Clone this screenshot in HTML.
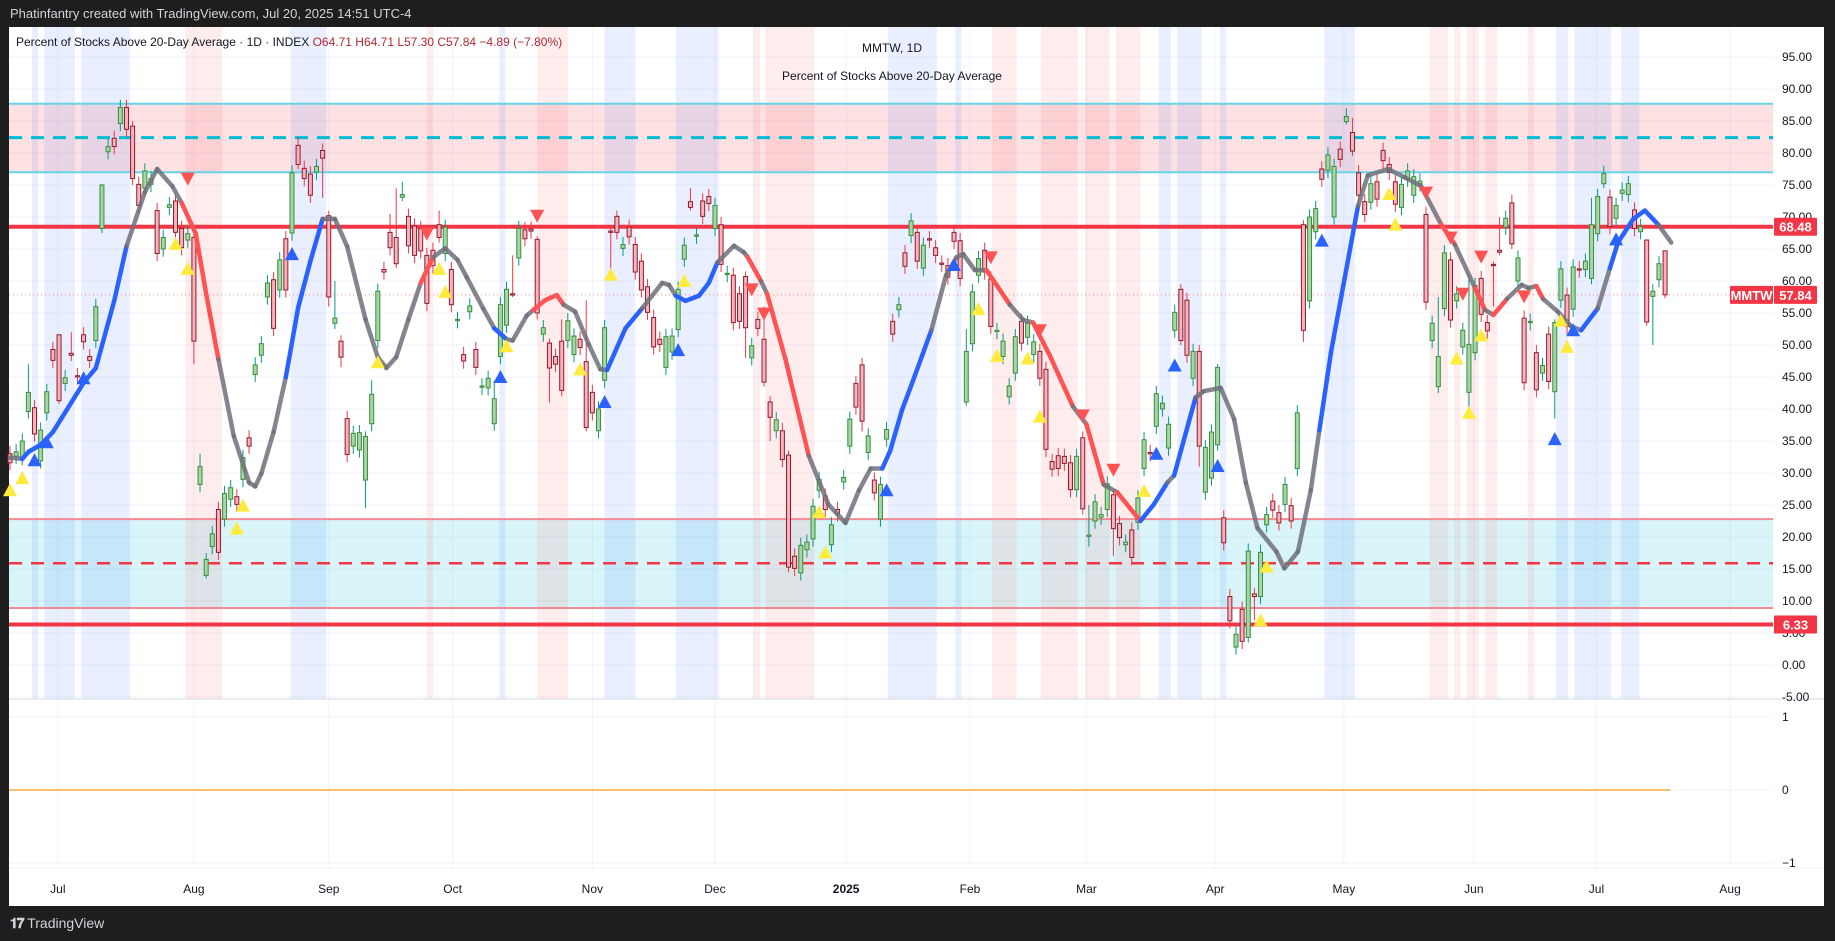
<!DOCTYPE html>
<html><head><meta charset="utf-8">
<style>
html,body{margin:0;padding:0;background:#1e1e1e;}
body{width:1835px;height:941px;overflow:hidden;position:relative;font-family:"Liberation Sans",sans-serif;}
#hdr{position:absolute;left:10px;top:6px;color:#d1d4dc;font-size:13px;}
#logo{position:absolute;left:10px;top:915px;color:#d1d4dc;font-size:14px;}
svg{position:absolute;left:0;top:0;}
</style></head>
<body>
<div id="hdr">Phatinfantry created with TradingView.com, Jul 20, 2025 14:51 UTC-4</div>
<div id="logo"><b style="letter-spacing:-1px">𝟏𝟕</b> TradingView</div>
<svg id="chart" width="1835" height="941"></svg>
<script>
// ---- data ----
const opens=[33.0,32.6,32.4,39.6,40.2,31.9,39.4,49.3,51.6,44.0,48.7,45.2,51.6,48.2,50.7,68.2,80.2,82.3,84.6,87.1,84.2,75.1,74.5,75.1,71.0,65.0,71.5,72.5,68.2,66.4,66.8,28.2,14.0,18.5,24.3,22.8,25.9,26.3,29.0,35.5,45.4,48.4,57.5,60.2,58.6,66.6,67.5,81.2,77.6,76.7,77.0,80.4,70.2,53.4,50.6,38.5,34.2,33.6,28.9,37.7,50.7,61.8,67.6,66.8,73.1,70.1,68.6,68.2,64.0,64.8,68.8,64.3,61.8,53.8,48.5,55.2,49.3,43.4,43.3,37.7,48.2,53.1,58.0,63.6,68.0,68.1,66.5,51.7,50.3,48.2,50.6,50.7,48.5,50.9,47.4,42.6,36.6,44.5,67.8,70.1,65.1,68.4,65.7,63.1,59.1,54.3,50.9,46.5,48.9,52.4,63.4,72.4,67.0,72.5,73.2,68.2,68.8,61.0,60.9,58.0,60.7,48.0,54.0,50.9,41.1,36.6,36.6,32.8,17.0,14.4,18.0,19.7,27.3,26.4,18.8,24.3,28.6,34.2,44.0,46.9,33.2,28.9,22.8,35.3,53.7,55.5,64.4,67.1,67.6,62.0,66.6,65.2,62.8,62.4,67.6,66.3,41.1,50.2,60.9,64.8,60.3,52.1,48.2,41.9,45.6,53.7,51.2,48.5,49.0,46.2,31.8,32.7,32.6,31.6,27.4,35.5,20.1,22.5,23.1,24.3,26.6,22.1,18.8,21.1,22.3,30.7,33.2,37.3,40.0,33.9,52.3,58.7,57.0,44.8,49.0,27.0,29.2,34.4,23.0,10.7,2.8,8.7,4.3,11.1,10.7,21.9,25.6,23.8,25.1,24.9,30.7,68.8,56.9,67.7,77.5,77.3,70.0,80.6,84.9,83.2,76.9,72.4,72.3,75.5,80.4,78.2,75.5,71.5,75.9,73.4,75.2,70.4,50.7,43.5,55.7,63.3,56.9,49.7,42.6,48.8,60.4,53.5,62.6,64.8,68.4,72.2,60.0,54.2,53.5,48.8,45.6,51.7,42.7,57.0,57.8,55.6,61.9,61.8,60.4,67.4,75.2,73.1,69.8,73.7,73.5,71.1,67.7,66.4,57.6,60.2,64.71];
const closes=[31.6,33.3,35.0,42.6,36.1,36.7,42.7,47.6,41.3,44.9,48.4,45.0,50.5,47.6,56.0,75.0,81.0,81.0,87.1,83.7,76.0,71.8,77.2,76.0,64.3,66.8,71.9,67.6,65.2,67.4,50.6,31.0,16.5,20.5,17.6,26.8,27.7,25.1,32.4,34.2,46.9,50.2,59.7,52.6,63.3,58.6,76.9,78.2,76.0,73.4,77.9,79.2,57.5,54.2,48.1,32.9,36.2,36.3,35.7,42.3,58.4,61.4,65.2,62.7,73.5,65.5,64.0,64.7,56.5,62.4,66.8,68.4,56.3,54.0,47.5,56.1,46.5,43.6,44.8,41.6,56.3,58.7,57.8,68.2,66.6,67.8,55.0,52.7,46.4,47.0,42.9,53.8,51.4,49.6,37.1,39.4,40.0,52.7,67.6,67.6,65.7,66.9,61.4,58.6,55.1,49.7,50.1,51.3,51.4,58.7,65.6,71.5,67.2,70.1,72.1,71.8,62.6,61.2,53.5,53.7,52.7,49.9,52.6,44.2,38.7,38.3,32.1,15.3,15.1,18.7,19.2,24.8,29.0,24.3,21.9,23.6,29.3,38.4,40.3,38.1,35.8,26.9,28.2,36.8,51.7,56.3,62.3,69.4,63.1,65.6,66.4,64.0,62.6,60.6,66.2,60.4,49.0,58.3,63.5,61.4,52.9,52.3,50.6,43.6,51.3,50.3,53.4,50.5,44.8,33.7,30.6,30.7,31.5,27.4,32.6,24.4,20.3,25.5,23.5,28.3,21.3,19.9,19.2,16.8,26.1,35.2,33.0,42.4,40.9,37.6,55.1,50.7,48.4,49.0,34.2,34.0,36.4,46.5,19.1,6.9,4.8,3.7,17.8,10.7,17.6,23.5,24.2,22.2,28.2,22.5,39.4,52.3,70.0,71.3,75.9,79.7,77.9,79.0,85.7,80.3,73.4,70.4,75.2,72.8,78.8,77.0,72.0,75.1,77.2,76.3,75.6,56.7,53.4,48.2,64.4,53.9,58.0,52.3,50.1,59.3,54.8,52.2,62.4,64.5,69.8,65.8,63.6,44.1,53.7,43.0,46.8,44.3,53.5,61.9,52.9,62.2,61.7,63.1,68.8,73.2,76.8,68.5,71.8,74.2,75.2,68.2,68.5,53.6,58.4,62.7,57.84];
// notable wick extremes (bar index, high, low)
const wickIdx=[3,8,10,15,20,30,31,32,47,51,52,53,54,58,59,62,63,64,70,79,82,86,88,90,94,98,99,111,120,123,124,127,139,156,175,176,180,191,194,197,202,203,211,218,219,233,238,242,243,245,252,258,260,267,268,270];
const wickHi=[47,42.3,52,75.2,85,67.5,33,17.5,82.5,81.5,71,60,51.5,36.5,44.5,70.5,74.5,75.5,71,44.4,64,67,51,54,57,68.5,71,74.5,61.5,56,42,33.5,48,52.5,36.5,25,27.5,59.5,50,47,19,12,69.5,87,85.5,57.5,61,63,70,73.5,54,73,78,66.5,59.5,64.71];
const wickLo=[38.5,40.8,47.5,67.5,75,47,27,13.5,77.5,73,56,52.5,46.5,24.5,36.5,64,62,72.5,66,36.6,57.5,54,41,42,36.5,62,66.5,71,48,43.5,35,14.5,36.5,40.5,23.5,18.5,17,50,31,33.5,3.5,7,50.5,84.5,79.5,42.5,38.5,56,64,65,38.5,59.5,74.5,53,50,57.3];
// indicator line samples (bar index, value, trend state for segment to next point)
const maIdx=[0,2,3,5,7,10,12,14,17,19,22,24,26.5,28,30.3,32,34,36.5,39,40,41,43,45,47,49,51,53,55,58,60,61.4,63,65,67,69,71,73,74.5,77.2,79,81,82,84.3,85.4,87.3,89.2,90.3,92.2,94.4,96.3,97.4,100.4,103.1,106.4,107.5,108.6,110.2,112.4,114,115.4,118.1,119.7,120.3,122.5,123.5,126.5,130.3,133.5,136.3,138.5,140.4,142.3,143.6,145.5,147.3,150.3,152.7,154.4,155.5,157.4,159.3,163.1,165.3,166.9,169.6,173.4,175.6,178.4,180.6,184.4,186.6,188.8,189.9,193.4,194.8,197.5,199.7,201.6,203.5,206.6,207.9,210.1,212.2,213.6,215.5,217.7,219.9,221.5,224.8,227.5,230.2,233.5,235.7,239,240.6,242,244.2,246.6,247.7,249,250.1,252.5,254.7,256.3,259,261,262.3,264.8,266.7,268.9,271];
const maVal=[32.4,32.2,33.3,34.4,36.4,41.0,44.1,46.4,56.9,65.4,73.9,77.5,74.8,72.2,67.4,58.0,47.8,35.8,28.5,27.9,29.9,36.4,45.0,55.8,63.1,69.7,69.7,65.4,54.0,48.1,46.4,48.1,54.0,59.7,63.7,65.1,63.3,60.6,55.7,52.6,50.9,50.7,54.6,55.5,57.0,57.8,56.3,55.2,50.1,46.2,46.1,52.6,55.7,59.7,59.4,57.7,56.9,57.7,59.7,62.9,65.5,64.5,63.8,60.0,58.0,47.8,32.7,25.1,22.2,27.3,30.7,30.7,33.5,39.8,44.4,52.3,60.9,63.7,64.2,61.7,61.7,56.3,53.9,53.5,48.4,40.4,37.6,28.2,27.0,22.5,25.1,28.5,29.6,41.8,42.8,43.3,38.4,28.5,21.4,17.7,15.1,17.7,27.3,36.7,48.9,60.3,71.7,76.5,77.5,76.2,74.8,68.8,65.7,58.9,55.5,54.7,57.2,59.4,58.9,59.2,57.2,55.2,52.9,52.3,55.7,62.0,66.0,69.7,71.0,68.8,66.0];
const maState=['g','b','b','b','b','b','b','b','b','g','g','g','g','r','r','r','g','g','g','g','g','g','b','b','b','g','g','g','g','g','g','g','g','r','g','g','g','g','g','b','g','g','g','r','r','r','g','g','g','g','b','b','g','g','g','b','b','b','b','g','g','g','r','g','r','r','g','g','g','g','g','b','b','b','b','g','g','g','g','g','r','g','g','r','r','g','r','g','r','b','b','g','b','g','g','g','g','g','g','g','g','g','g','b','b','b','g','g','g','g','g','r','g','r','g','r','g','g','g','r','g','g','g','b','g','b','b','b','b','g','g','g','g'];
// signal markers
const triBlueIdx=[4,6,12,46,80,97,109,143,154,187,190,197,214,252,255,262];
const triBlueVal=[32.0,34.8,44.8,64.2,45.0,41.1,49.2,27.3,62.5,33.0,46.8,31.1,66.3,35.3,52.3,66.5];
const triRedIdx=[29,68,86,121,123,160,168,175,180,231,235,237,240,247];
const triRedVal=[76.0,67.4,70.2,58.7,54.9,63.7,52.3,39.0,30.5,73.8,66.8,58.0,63.8,57.6];
const triYelIdx=[0,2,27,29,37,38,60,70,71,81,93,98,110,132,133,158,161,166,168,185,204,205,225,226,236,238,240,253,254];
const triYelVal=[27.3,29.2,65.8,61.9,21.3,24.9,47.3,61.9,58.3,49.8,46.2,61.0,60.0,23.9,17.6,55.6,48.3,47.9,38.8,27.2,7.0,15.4,73.6,68.8,47.9,39.4,51.5,53.8,49.7];
// background highlight columns (bar index start/end)
const blueBandStart=[3.6,5.6,11.6,45.8,79.8,97,108.6,121.2,143.2,154.2,187.4,190.4,197.4,214.4,252.2,255.2,262.8];
const blueBandEnd=[4.6,10.6,19.6,51.6,80.8,102,115.6,121.4,151.2,155.2,189.4,194.4,198.4,219.4,254.2,261.2,265.8];
const redBandStart=[28.6,68,86,121.4,123.2,160.2,168.2,175.4,180.4,231.6,235.6,237.6,240.6,247.6];
const redBandEnd=[34.6,69,91,122.4,131.2,164.2,174.2,179.4,184.4,234.6,236.6,239.6,242.6,248.6];
const levelVals=[87.7,82.4,77.0,68.48,22.8,15.9,8.9,6.33];
const yTicks=[95,90,85,80,75,70,65,60,55,50,45,40,35,30,25,20,15,10,5,0,-5];
const monthLabels=['Jul','Aug','Sep','Oct','Nov','Dec','2025','Feb','Mar','Apr','May','Jun','Jul','Aug'];
const monthIdx=[7.8,30,52,72.2,95,115,136.4,156.6,175.6,196.6,217.6,238.8,258.8,280.6];
const lastValue=57.84;

// ---- scales ----
const X0=10, DX=6.13, PLOT_R=1773, TOP=27, SEP=699;
const xs=i=>X0+i*DX;
const ys=v=>57+(95-v)*6.4;
const yl=v=>790-v*73;
const NS='http://www.w3.org/2000/svg';
const svg=document.getElementById('chart');
function mk(tag,attrs,parent){const e=document.createElementNS(NS,tag);for(const k in attrs)e.setAttribute(k,attrs[k]);(parent||svg).appendChild(e);return e;}

let e;
e=mk('rect',{x:9,y:TOP,width:1815,height:879,fill:'#ffffff'});



// grid
const grid=mk('g',{});


yTicks.forEach(v=>{mk('line',{x1:9,x2:PLOT_R,y1:ys(v),y2:ys(v),stroke:'#f0f3fa','stroke-width':1},grid);});
[1,0,-1].forEach(v=>{mk('line',{x1:9,x2:PLOT_R,y1:yl(v),y2:yl(v),stroke:'#f0f3fa','stroke-width':1},grid);});
monthIdx.forEach(i=>{mk('line',{x1:xs(i),x2:xs(i),y1:TOP,y2:868,stroke:'#f0f3fa','stroke-width':1},grid);});

// zones
e=mk('rect',{x:9,y:ys(87.7),width:PLOT_R-9,height:ys(77)-ys(87.7),fill:'rgba(242,54,69,0.15)'});


e=mk('rect',{x:9,y:ys(22.8),width:PLOT_R-9,height:ys(8.9)-ys(22.8),fill:'rgba(0,188,212,0.15)'});



// bands
const bands=mk('g',{});


blueBandStart.forEach((s,k)=>{const r=mk('rect',{x:xs(s),y:TOP,width:xs(blueBandEnd[k])-xs(s),height:SEP-TOP,fill:'rgba(41,98,255,0.1)'},bands);

});
redBandStart.forEach((s,k)=>{const r=mk('rect',{x:xs(s),y:TOP,width:xs(redBandEnd[k])-xs(s),height:SEP-TOP,fill:'rgba(255,82,82,0.11)'},bands);

});

// level lines
const lv=mk('g',{});


const lvStyle=[['#66d4e6',2,''],['#00bcd4',3,'13,9'],['#66d4e6',2,''],['#f23645',4,''],['#f28a94',2,''],['#f23645',2.5,'13,9'],['#f28a94',2,''],['#f23645',4,'']];
levelVals.forEach((v,k)=>{const s=lvStyle[k];const l=mk('line',{x1:9,x2:PLOT_R,y1:ys(v),y2:ys(v),stroke:s[0],'stroke-width':s[1],'stroke-dasharray':s[2]},lv);

});

// last price dotted line
e=mk('line',{x1:9,x2:PLOT_R,y1:ys(lastValue),y2:ys(lastValue),stroke:'#f23645','stroke-width':1,'stroke-dasharray':'1,3',opacity:0.6});



// candles
const cg=mk('g',{});


opens.forEach((o,i)=>{
  const c=closes[i];const up=c>=o;
  let hi=Math.max(o,c)+1.2, lo=Math.min(o,c)-1.2;
  const w=wickIdx.indexOf(i); if(w>=0){hi=Math.max(wickHi[w],Math.max(o,c));lo=Math.min(wickLo[w],Math.min(o,c));}
  const x=xs(i);
  const g=mk('g',{},cg);
  
  
  mk('line',{x1:x,x2:x,y1:ys(hi),y2:ys(lo),stroke:up?'#089981':'#f23645','stroke-width':1},g);
  const t=ys(Math.max(o,c)),b=ys(Math.min(o,c));
  mk('rect',{x:x-2,y:t,width:4,height:Math.max(1,b-t),fill:up?'#a5d6a7':'#f8b3bd',stroke:up?'#388e3c':'#8e1b2c','stroke-width':1},g);
});

// indicator line
const mg=mk('g',{fill:'none','stroke-linecap':'round','stroke-linejoin':'round'});


const stCol={g:'rgba(110,112,122,0.85)',b:'#2962ff',r:'#ff5252'};
for(let k=0;k<maIdx.length-1;k++){
  const l=mk('line',{x1:xs(maIdx[k]),y1:ys(maVal[k]),x2:xs(maIdx[k+1]),y2:ys(maVal[k+1]),stroke:stCol[maState[k]],'stroke-width':4.5},mg);
  
  
}

// markers
function tri(i,v,col,down,name){
  const x=xs(i),y=ys(v);
  const p=down?`${x-7},${y-6} ${x+7},${y-6} ${x},${y+7}`:`${x-7},${y+6} ${x+7},${y+6} ${x},${y-7}`;
  const t=mk('polygon',{points:p,fill:col});
  
  
}
triYelIdx.forEach((i,k)=>tri(i,triYelVal[k],'#ffeb3b',false,'yellow-signal'));
triBlueIdx.forEach((i,k)=>tri(i,triBlueVal[k],'#2962ff',false,'buy-signal'));
triRedIdx.forEach((i,k)=>tri(i,triRedVal[k],'#ff5252',true,'sell-signal'));

// cover area right of plot (price axis)
e=mk('rect',{x:PLOT_R,y:TOP,width:1824-PLOT_R,height:879,fill:'#ffffff'});


// pane separator
e=mk('line',{x1:9,x2:1824,y1:SEP,y2:SEP,stroke:'#d6d8de','stroke-width':1});



// y tick labels
const yt=mk('g',{'font-size':12,fill:'#131722','font-family':'Liberation Sans, sans-serif'});


yTicks.forEach(v=>{const t=mk('text',{x:1782,y:ys(v)+4},yt);t.textContent=v.toFixed(2);

});
[1,0,-1].forEach(v=>{const t=mk('text',{x:1782,y:yl(v)+4},yt);t.textContent=String(v).replace('-','−');

});

// price tags
function tag(x,w,v,txt,name){
  const g=mk('g',{});
  
  
  mk('rect',{x:x,y:ys(v)-9,width:w,height:18,fill:'#f23645',rx:1},g);
  const t=mk('text',{x:x+w/2,y:ys(v)+5,'text-anchor':'middle',fill:'#fff','font-size':13,'font-weight':'bold'},g);t.textContent=txt;
}
tag(1774,43,68.48,'68.48','level-tag-68');
tag(1774,43,6.33,'6.33','level-tag-6');
tag(1774,43,lastValue,lastValue.toFixed(2),'last-price-tag');
tag(1730,43,lastValue,'MMTW','symbol-tag');

// lower pane zero line
e=mk('line',{x1:9,x2:xs(270)+5,y1:yl(0),y2:yl(0),stroke:'#f7a93b','stroke-width':1.5});


e=mk('line',{x1:9,x2:1824,y1:868,y2:868,stroke:'#f0f3fa','stroke-width':1});

// x labels
const xt=mk('g',{'font-size':12,fill:'#131722','text-anchor':'middle'});


monthLabels.forEach((m,k)=>{const t=mk('text',{x:xs(monthIdx[k]),y:893,'font-weight':m==='2025'?'bold':'normal'},xt);t.textContent=m;

});

// legend & title
e=mk('text',{x:16,y:46,'font-size':12,fill:'#131722'});


e.innerHTML='Percent of Stocks Above 20-Day Average · 1D · INDEX  <tspan fill="#b22833">O64.71  H64.71  L57.30  C57.84  −4.89 (−7.80%)</tspan>';
e=mk('text',{x:892,y:52,'font-size':12,fill:'#131722','text-anchor':'middle'});
e.textContent='MMTW, 1D';


e=mk('text',{x:892,y:80,'font-size':12,fill:'#131722','text-anchor':'middle'});
e.textContent='Percent of Stocks Above 20-Day Average';


</script>
</body></html>
